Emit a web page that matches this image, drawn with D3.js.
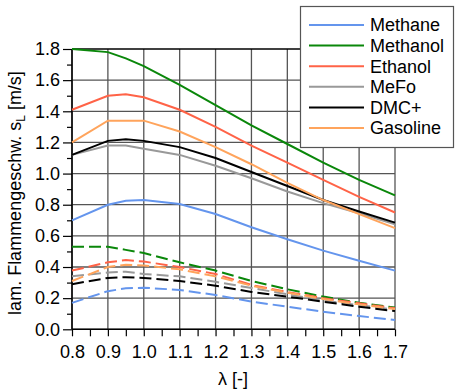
<!DOCTYPE html>
<html><head><meta charset="utf-8">
<script src="https://cdn.jsdelivr.net/npm/d3@7"></script>
<style>body{margin:0;background:#fff}svg{display:block}text{font-family:Arial,"Liberation Sans",sans-serif}</style>
</head><body>
<svg id="c" width="459" height="391"></svg>
<script>
const lambdas = [0.8, 0.9, 0.95, 1.0, 1.1, 1.2, 1.3, 1.4, 1.5, 1.6, 1.7];
const fuels = ["Methane", "Methanol", "Ethanol", "MeFo", "DMC+", "Gasoline"];
const colors = ["#6495ED", "#0a870a", "#FF6347", "#999999", "#000000", "#FFA45C"];
// solid (upper) series
const methaneSolid  = [0.70, 0.80, 0.826, 0.83, 0.805, 0.74, 0.655, 0.578, 0.505, 0.44, 0.377];
const methanolSolid = [1.80, 1.78, 1.74, 1.69, 1.57, 1.44, 1.31, 1.19, 1.07, 0.96, 0.86];
const ethanolSolid  = [1.41, 1.50, 1.51, 1.49, 1.41, 1.30, 1.18, 1.07, 0.96, 0.85, 0.75];
const mefoSolid     = [1.12, 1.18, 1.18, 1.16, 1.12, 1.05, 0.97, 0.885, 0.81, 0.745, 0.675];
const dmcSolid      = [1.12, 1.21, 1.22, 1.21, 1.17, 1.10, 1.01, 0.92, 0.83, 0.756, 0.685];
const gasolineSolid = [1.20, 1.34, 1.34, 1.34, 1.27, 1.17, 1.06, 0.94, 0.83, 0.74, 0.65];
// dashed (lower) series
const methaneDash  = [0.17, 0.245, 0.263, 0.267, 0.253, 0.22, 0.178, 0.145, 0.113, 0.085, 0.06];
const methanolDash = [0.53, 0.53, 0.51, 0.49, 0.43, 0.377, 0.31, 0.257, 0.21, 0.17, 0.14];
const ethanolDash  = [0.377, 0.43, 0.445, 0.435, 0.40, 0.355, 0.285, 0.24, 0.20, 0.167, 0.135];
const mefoDash     = [0.34, 0.365, 0.37, 0.355, 0.34, 0.305, 0.265, 0.225, 0.185, 0.155, 0.125];
const dmcDash      = [0.29, 0.33, 0.335, 0.33, 0.31, 0.28, 0.24, 0.21, 0.177, 0.145, 0.117];
const gasolineDash = [0.31, 0.40, 0.415, 0.41, 0.385, 0.34, 0.28, 0.235, 0.195, 0.16, 0.13];
const xTicks = [0.8, 0.9, 1.0, 1.1, 1.2, 1.3, 1.4, 1.5, 1.6, 1.7];
const yTicks = [0.0, 0.2, 0.4, 0.6, 0.8, 1.0, 1.2, 1.4, 1.6, 1.8];

const solid = [methaneSolid, methanolSolid, ethanolSolid, mefoSolid, dmcSolid, gasolineSolid];
const dashed = [methaneDash, methanolDash, ethanolDash, mefoDash, dmcDash, gasolineDash];

const svg = d3.select("#c");
const L = 72, R = 395, T = 49, B = 329.3;
const x = d3.scaleLinear().domain([0.8, 1.7]).range([L, R]);
const y = d3.scaleLinear().domain([0, 1.8]).range([B, T]);

// grid
const g = svg.append("g");
g.selectAll("line.v").data(xTicks).join("line")
  .attr("x1", d => x(d)).attr("x2", d => x(d)).attr("y1", T).attr("y2", B)
  .attr("stroke", "#555").attr("stroke-width", 1.3);
g.selectAll("line.h").data(yTicks).join("line")
  .attr("x1", L).attr("x2", R).attr("y1", d => y(d)).attr("y2", d => y(d))
  .attr("stroke", d => d === 1.8 ? "#000" : "#555").attr("stroke-width", 1.3);

// axes
const xAxis = d3.axisBottom(x).tickValues(d3.range(0.8, 1.7001, 0.05)).tickSize(7).tickFormat(d => {
  const r = Math.round(d * 100);
  return r % 10 === 0 ? d3.format(".1f")(d) : "";
});
const xa = svg.append("g").attr("transform", `translate(0,${B})`).call(xAxis);
xa.select(".domain").remove();
xa.selectAll(".tick line").attr("stroke", "#000").attr("stroke-width", 1.2);
xa.selectAll("text").attr("font-size", 18).attr("fill", "#000").attr("dy", "1.05em")
  .attr("font-family", "Arial, 'Liberation Sans', sans-serif");

const yAxis = d3.axisLeft(y).tickValues(yTicks).tickSize(9).tickPadding(3).tickFormat(d3.format(".1f"));
const ya = svg.append("g").attr("transform", `translate(${L},0)`).call(yAxis);
ya.select(".domain").remove();
ya.selectAll(".tick line").attr("stroke", "#000").attr("stroke-width", 1.2);
ya.selectAll("text").attr("font-size", 18).attr("fill", "#000")
  .attr("font-family", "Arial, 'Liberation Sans', sans-serif");
const yMinor = d3.axisLeft(y).tickValues(d3.range(0.1, 1.8, 0.2)).tickSize(5).tickFormat("");
const ym = svg.append("g").attr("transform", `translate(${L},0)`).call(yMinor);
ym.select(".domain").remove();
ym.selectAll(".tick line").attr("stroke", "#000").attr("stroke-width", 1.2);

// axis line
svg.append("line").attr("x1", L).attr("x2", L).attr("y1", T).attr("y2", B).attr("stroke", "#000").attr("stroke-width", 1.5);
svg.append("line").attr("x1", L).attr("x2", R).attr("y1", B).attr("y2", B).attr("stroke", "#000").attr("stroke-width", 1.5);

// lines
const line = d3.line().x((d, i) => x(lambdas[i])).y(d => y(d));
dashed.forEach((s, k) => {
  svg.append("path").attr("d", line(s)).attr("fill", "none").attr("stroke", colors[k])
    .attr("stroke-width", 2).attr("stroke-dasharray", "12,5");
});
solid.forEach((s, k) => {
  svg.append("path").attr("d", line(s)).attr("fill", "none").attr("stroke", colors[k])
    .attr("stroke-width", 2);
});

// legend
const lg = svg.append("g");
lg.append("rect").attr("x", 300.5).attr("y", 6.5).attr("width", 153).attr("height", 141)
  .attr("fill", "#fff").attr("stroke", "#555").attr("stroke-width", 1.2);
fuels.forEach((f, i) => {
  const yy = 25 + i * 20.6;
  lg.append("line").attr("x1", 309).attr("x2", 364).attr("y1", yy).attr("y2", yy)
    .attr("stroke", colors[i]).attr("stroke-width", 2);
  lg.append("text").attr("x", 370).attr("y", yy).attr("dy", "0.35em").attr("font-size", 18)
    .attr("fill", "#000").text(f);
});

// titles
svg.append("text").attr("x", 233).attr("y", 385).attr("text-anchor", "middle").attr("font-size", 18)
  .text("λ [-]");
const yt = svg.append("text").attr("transform", "translate(21,193) rotate(-90)").attr("text-anchor", "middle")
  .attr("font-size", 18);
yt.append("tspan").text("lam. Flammengeschw. s");
yt.append("tspan").attr("font-size", 12).attr("dy", 4).text("L");
yt.append("tspan").attr("dy", -4).text(" [m/s]");
</script>
</body></html>
